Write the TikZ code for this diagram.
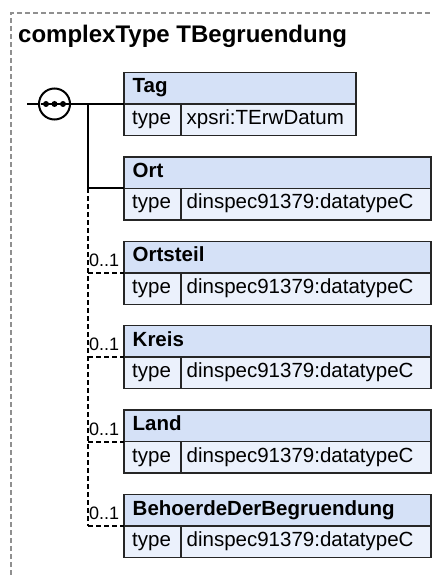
\documentclass[tikz,border=0pt]{standalone}
\usepackage{fontspec}
\setmainfont{Liberation Sans}
\definecolor{hdrblue}{HTML}{D5E1F7}
\definecolor{rowblue}{HTML}{EBF1FC}
\definecolor{framegray}{HTML}{909090}
\begin{document}
\begin{tikzpicture}[x=1pt,y=-1pt,
  boxline/.style={draw=black!85, line width=1.5pt},
  hdr/.style={boxline, fill=hdrblue, rectangle, anchor=north west, minimum height=31.5pt, inner sep=0pt, outer sep=0pt},
  cell/.style={boxline, fill=rowblue, rectangle, anchor=north west, minimum height=31.5pt, inner sep=0pt, outer sep=0pt},
  lbl/.style={anchor=base west, inner sep=0pt, font=\fontsize{20.5}{24}\selectfont},
  occ/.style={anchor=base west, inner sep=0pt, font=\fontsize{18}{21}\selectfont},
  conn/.style={line width=2pt, black},
  optconn/.style={conn, dash pattern=on 5pt off 3pt},
]
\useasboundingbox (0,0) rectangle (433,575);
% outer frame
\draw[framegray, line width=1.2pt, dash pattern=on 5pt off 3pt] (11,575) -- (11,13) -- (433,13);
\node[anchor=base west, inner sep=0pt, font=\fontsize{24}{28}\selectfont\bfseries] (title) at (18,43) {complexType TBegruendung};

% element boxes
\foreach \i/\t/\w/\nm/\ty in {0/72.5/232/Tag/xpsri:TErwDatum,
  1/156.9/307/Ort/dinspec91379:datatypeC,
  2/241.3/307/Ortsteil/dinspec91379:datatypeC,
  3/325.7/307/Kreis/dinspec91379:datatypeC,
  4/410.1/307/Land/dinspec91379:datatypeC,
  5/494.5/307/BehoerdeDerBegruendung/dinspec91379:datatypeC}{
  \pgfmathsetmacro\vw{\w-57}
  \node[hdr, minimum width=\w pt] (h\i) at (124,\t) {};
  \node[cell, minimum width=57pt] (t\i) at (h\i.south west) {};
  \node[cell, minimum width=\vw pt] (v\i) at (t\i.north east) {};
  \node[lbl] (hn\i) at ([shift={(8.5,20.5)}]h\i.north west) {\bfseries\nm};
  \node[lbl] (tn\i) at ([shift={(8,20.5)}]t\i.north west) {type};
  \node[lbl] (vn\i) at ([shift={(5.5,20.5)}]v\i.north west) {\ty};
}

% sequence compositor
\node[circle, draw, line width=2pt, fill=white, minimum size=31pt, inner sep=0pt] (seq) at (54.5,104) {};
\coordinate (in) at (27,104);
\coordinate (j) at (88,104);
\draw[conn] (in) -- (seq.west);
\draw[conn] (seq.east) -- (h0.south west);
\draw[line width=2pt] ([xshift=-14pt]seq.center) -- ([xshift=14pt]seq.center);
\fill ([xshift=-8.5pt]seq.center) circle (3pt);
\fill (seq.center) circle (3pt);
\fill ([xshift=8.5pt]seq.center) circle (3pt);

% branches
\draw[conn] (j) -- (j |- h1.south west) -- (h1.south west);
\draw[optconn] (j |- h1.south west) -- (j |- h5.south west);
\foreach \i in {2,3,4,5}{
  \draw[optconn] (j |- h\i.south west) -- (h\i.south west);
  \node[occ] (o\i) at ([shift={(1,-6.5)}]j |- h\i.south west) {0..1};
}
\end{tikzpicture}
\end{document}
